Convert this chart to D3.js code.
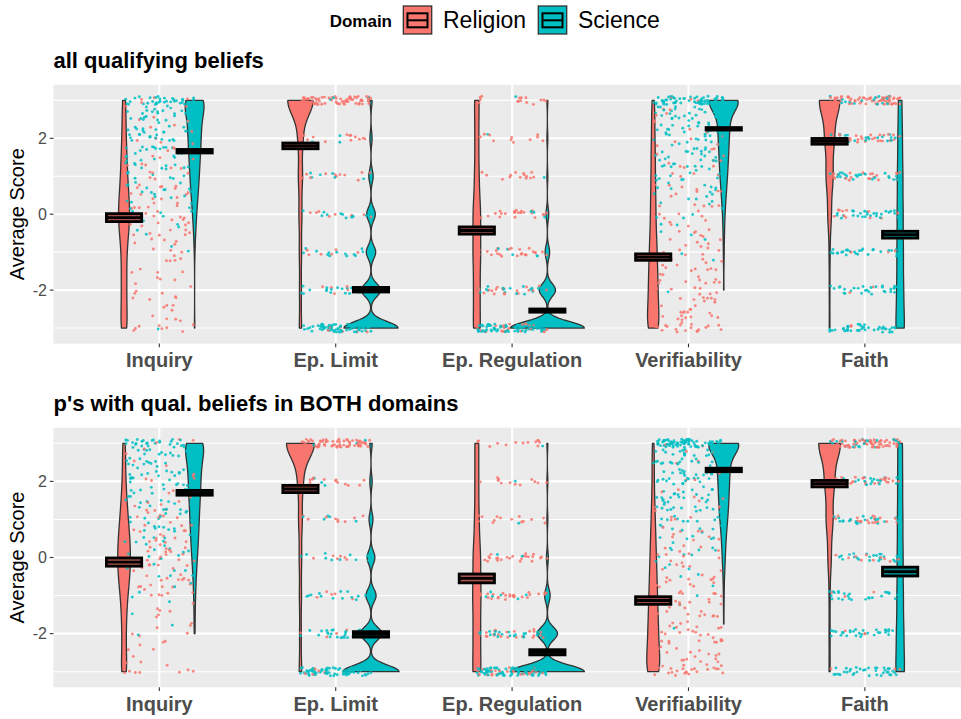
<!DOCTYPE html>
<html>
<head>
<meta charset="utf-8">
<script src="https://cdn.jsdelivr.net/npm/d3@7"></script>
<style>
  body { margin: 0; background: #ffffff; }
  svg { display: block; }
  text { font-family: "Liberation Sans", Arial, Helvetica, sans-serif; }
</style>
</head>
<body>
<svg id="chart" width="961" height="719"></svg>
<script>
// ---------- data ----------
const categories = ["Inquiry", "Ep. Limit", "Ep. Regulation", "Verifiability", "Faith"];
const domains = ["Religion", "Science"];
const panelTitles = ["all qualifying beliefs", "p's with qual. beliefs in BOTH domains"];
const yTickValues = [-2, 0, 2];
const yTickLabels = ["-2", "0", "2"];
const yGridMinor = [-3, -1, 1, 3];

// response levels (scores run from 3 down to -3)
const wholeLevels = [3, 2, 1, 0, -1, -2, -3];
const fineLevels = [3, 2.75, 2.5, 2.25, 2, 1.75, 1.5, 1.25, 1, 0.75, 0.5, 0.25, 0,
                    -0.25, -0.5, -0.75, -1, -1.25, -1.5, -1.75, -2, -2.25, -2.5, -2.75, -3];
const categoryLevels = [fineLevels, wholeLevels, wholeLevels, fineLevels, wholeLevels];

// number of participants at each level — all qualifying beliefs
const allInquiryReligion = [4, 2, 3, 3, 3, 4, 4, 5, 5, 6, 7, 8, 9, 8, 7, 5, 4, 4, 4, 4, 4, 4, 4, 4, 8];
const allInquiryScience  = [35, 15, 14, 13, 13, 12, 11, 10, 9, 8, 7, 5, 4, 3, 2, 1, 1, 0, 0, 0, 0, 0, 0, 0, 1];
const allEpLimitReligion = [70, 13, 11, 8, 6, 5, 6];
const allEpLimitScience  = [3, 3, 6, 12, 13, 27, 75];
const allEpRegReligion   = [15, 12, 14, 24, 24, 20, 23];
const allEpRegScience    = [1, 1, 1, 3, 5, 18, 82];
const allVerifReligion   = [3, 3, 3, 3, 3, 4, 4, 4, 4, 4, 5, 5, 5, 5, 6, 7, 7, 8, 8, 9, 9, 9, 10, 10, 18];
const allVerifScience    = [70, 16, 15, 14, 13, 12, 11, 10, 9, 7, 6, 4, 3, 2, 2, 1, 1, 1, 0, 0, 1, 0, 0, 0, 0];
const allFaithReligion   = [64, 28, 21, 11, 3, 2, 2];
const allFaithScience    = [16, 20, 24, 26, 28, 30, 40];

// number of participants at each level — participants with beliefs in both domains
const bothInquiryReligion = [3, 2, 2, 2, 3, 3, 4, 5, 6, 7, 8, 9, 9, 9, 8, 7, 5, 4, 4, 3, 3, 3, 3, 3, 7];
const bothInquiryScience  = [30, 14, 13, 12, 11, 11, 10, 9, 8, 8, 7, 6, 5, 4, 3, 2, 2, 1, 1, 1, 1, 0, 0, 0, 0];
const bothEpLimitReligion = [70, 13, 9, 6, 5, 4, 6];
const bothEpLimitScience  = [3, 3, 5, 10, 13, 28, 72];
const bothEpRegReligion   = [13, 12, 14, 24, 26, 23, 27];
const bothEpRegScience    = [1, 1, 1, 2, 6, 22, 80];
const bothVerifReligion   = [2, 2, 2, 2, 2, 2, 3, 3, 4, 4, 5, 5, 6, 6, 7, 7, 8, 8, 9, 9, 10, 10, 11, 11, 20];
const bothVerifScience    = [80, 18, 17, 16, 15, 14, 13, 12, 10, 8, 6, 5, 4, 3, 2, 1, 1, 1, 0, 1, 0, 0, 0, 0, 0];
const bothFaithReligion   = [66, 28, 20, 10, 3, 3, 3];
const bothFaithScience    = [20, 20, 22, 24, 26, 30, 38];

// mean score and standard error per category
const allMeanReligion  = [-0.09, 1.80, -0.43, -1.13, 1.92];
const allMeanScience   = [1.66, -1.99, -2.54, 2.25, -0.54];
const allSeReligion    = [0.105, 0.076, 0.095, 0.085, 0.076];
const allSeScience     = [0.046, 0.060, 0.042, 0.033, 0.090];
const bothMeanReligion = [-0.12, 1.80, -0.55, -1.13, 1.94];
const bothMeanScience  = [1.70, -2.02, -2.49, 2.30, -0.37];
const bothSeReligion   = [0.108, 0.095, 0.116, 0.100, 0.085];
const bothSeScience    = [0.063, 0.072, 0.068, 0.046, 0.116];

// kernel bandwidth of each violin
const bandwidthReligion = [0.35, 0.40, 0.50, 0.35, 0.42];
const bandwidthScience  = [0.30, 0.17, 0.17, 0.25, 0.50];

// ---------- assembled panel tables ----------
const panels = [
  {
    title: panelTitles[0],
    counts: {
      Religion: [allInquiryReligion, allEpLimitReligion, allEpRegReligion, allVerifReligion, allFaithReligion],
      Science:  [allInquiryScience, allEpLimitScience, allEpRegScience, allVerifScience, allFaithScience]
    },
    mean: { Religion: allMeanReligion, Science: allMeanScience },
    se:   { Religion: allSeReligion,   Science: allSeScience }
  },
  {
    title: panelTitles[1],
    counts: {
      Religion: [bothInquiryReligion, bothEpLimitReligion, bothEpRegReligion, bothVerifReligion, bothFaithReligion],
      Science:  [bothInquiryScience, bothEpLimitScience, bothEpRegScience, bothVerifScience, bothFaithScience]
    },
    mean: { Religion: bothMeanReligion, Science: bothMeanScience },
    se:   { Religion: bothSeReligion,   Science: bothSeScience }
  }
];
const bandwidth = { Religion: bandwidthReligion, Science: bandwidthScience };

// ---------- layout ----------
const fill = { Religion: "#F8766D", Science: "#00BFC4" };
const plotLeft = 53.5, plotRight = 970.7;
const panelBox = [ { top: 84.8, bottom: 343.6 }, { top: 427.7, bottom: 687.3 } ];

const svg = d3.select("#chart");
const x = d3.scalePoint().domain(categories).range([plotLeft, plotRight]).padding(0.6);
const step = x.step();
const dodge = { Religion: -0.2 * step, Science: 0.2 * step };

const gauss = u => Math.exp(-0.5 * u * u) / Math.sqrt(2 * Math.PI);

// Gaussian kernel density, trimmed to the observed range
function violinDensity(levels, counts, bw) {
  const present = levels.filter((v, i) => counts[i] > 0);
  const lo = d3.min(present), hi = d3.max(present);
  const n = d3.sum(counts);
  const samples = 160;
  return d3.range(samples + 1).map(i => {
    const y = lo + (hi - lo) * i / samples;
    const d = d3.sum(levels, (v, k) => counts[k] * gauss((y - v) / bw)) / (n * bw);
    return { y, d };
  });
}

// deterministic jitter source
const lcg = d3.randomLcg(0.4217);
const jitterX = d3.randomUniform.source(lcg)(-0.2, 0.2);
const jitterY = d3.randomUniform.source(lcg)(-0.11, 0.11);
const shuffle = d3.shuffler(lcg);

// ---------- legend ----------
const legend = svg.append("g");
legend.append("text")
  .attr("x", 392).attr("y", 27)
  .attr("text-anchor", "end")
  .attr("font-size", 17).attr("font-weight", "bold").attr("fill", "#000")
  .text("Domain");
const legendItems = [ { key: "Religion", x: 403.3 }, { key: "Science", x: 538.3 } ];
legendItems.forEach(item => {
  const g = legend.append("g").attr("transform", `translate(${item.x},6)`);
  g.append("rect").attr("x", 0).attr("y", 0).attr("width", 28.4).attr("height", 28)
    .attr("fill", fill[item.key]).attr("stroke", "#333333").attr("stroke-width", 1.3);
  g.append("rect").attr("x", 4.2).attr("y", 7.3).attr("width", 20).attr("height", 14)
    .attr("fill", fill[item.key]).attr("stroke", "#000").attr("stroke-width", 2);
  g.append("line").attr("x1", 4.2).attr("x2", 24.2).attr("y1", 14.3).attr("y2", 14.3)
    .attr("stroke", "#000").attr("stroke-width", 2);
  g.append("text").attr("x", 39.7).attr("y", 22.3)
    .attr("font-size", 23).attr("fill", "#000").text(item.key);
});

// ---------- panels ----------
panels.forEach((panel, p) => {
  const box = panelBox[p];
  const y = d3.scaleLinear().domain([-3.41, 3.41]).range([box.bottom, box.top]);
  const g = svg.append("g");

  // title
  g.append("text")
    .attr("x", plotLeft).attr("y", box.top - 16.7)
    .attr("font-size", 22).attr("font-weight", "bold").attr("fill", "#000")
    .text(panel.title);

  // background and grid
  g.append("rect")
    .attr("x", plotLeft).attr("y", box.top)
    .attr("width", plotRight - plotLeft).attr("height", box.bottom - box.top)
    .attr("fill", "#EBEBEB");
  g.selectAll(".gminor").data(yGridMinor).join("line")
    .attr("x1", plotLeft).attr("x2", plotRight)
    .attr("y1", d => y(d)).attr("y2", d => y(d))
    .attr("stroke", "#ffffff").attr("stroke-width", 1.1);
  g.selectAll(".gmajor").data(yTickValues).join("line")
    .attr("x1", plotLeft).attr("x2", plotRight)
    .attr("y1", d => y(d)).attr("y2", d => y(d))
    .attr("stroke", "#ffffff").attr("stroke-width", 2.1);
  g.selectAll(".gx").data(categories).join("line")
    .attr("x1", d => x(d)).attr("x2", d => x(d))
    .attr("y1", box.top).attr("y2", box.bottom)
    .attr("stroke", "#ffffff").attr("stroke-width", 2.1);

  // violins (area scaling: widths share one density maximum per panel)
  const violins = [];
  domains.forEach(dom => {
    categories.forEach((cat, c) => {
      const dens = violinDensity(categoryLevels[c], panel.counts[dom][c], bandwidth[dom][c]);
      violins.push({ dom, cat, c, dens });
    });
  });
  const maxDensity = d3.max(violins, v => d3.max(v.dens, s => s.d));
  const halfWidth = d3.scaleLinear().domain([0, maxDensity]).range([0, 0.21 * step]);

  violins.forEach(v => {
    const cx = x(v.cat) + dodge[v.dom];
    const area = d3.area()
      .y(s => y(s.y))
      .x0(s => cx - halfWidth(s.d))
      .x1(s => cx + halfWidth(s.d));
    g.append("path")
      .attr("d", area(v.dens))
      .attr("fill", fill[v.dom])
      .attr("stroke", "#333333").attr("stroke-width", 1.3)
      .attr("stroke-linejoin", "round");
  });

  // jittered participant points
  let pts = [];
  domains.forEach(dom => {
    categories.forEach((cat, c) => {
      const counts = panel.counts[dom][c];
      categoryLevels[c].forEach((lev, k) => {
        for (let i = 0; i < counts[k]; i++) {
          pts.push({ dom, cx: x(cat), v: lev });
        }
      });
    });
  });
  pts.forEach(pt => { pt.jx = jitterX(); pt.jy = jitterY(); });
  pts = shuffle(pts);
  g.selectAll(".pt").data(pts).join("circle")
    .attr("cx", d => d.cx + d.jx * step)
    .attr("cy", d => y(d.v + d.jy))
    .attr("r", 1.45)
    .attr("fill", d => fill[d.dom])
    .attr("fill-opacity", 0.85);

  // mean ± SE crossbars
  domains.forEach(dom => {
    categories.forEach((cat, c) => {
      const cx = x(cat) + dodge[dom];
      const m = panel.mean[dom][c], se = panel.se[dom][c];
      g.append("rect")
        .attr("x", cx - 0.1 * step).attr("width", 0.2 * step)
        .attr("y", y(m + se)).attr("height", y(m - se) - y(m + se))
        .attr("fill", d3.color(fill[dom]).darker(1.1))
        .attr("stroke", "#000").attr("stroke-width", 2.8);
      g.append("line")
        .attr("x1", cx - 0.1 * step).attr("x2", cx + 0.1 * step)
        .attr("y1", y(m)).attr("y2", y(m))
        .attr("stroke", "#000").attr("stroke-width", 2.8);
    });
  });

  // y axis
  g.selectAll(".yt").data(yTickValues).join("line")
    .attr("x1", plotLeft - 3.7).attr("x2", plotLeft)
    .attr("y1", d => y(d)).attr("y2", d => y(d))
    .attr("stroke", "#333333").attr("stroke-width", 1.1);
  g.selectAll(".yl").data(yTickValues).join("text")
    .attr("x", plotLeft - 6.5).attr("y", d => y(d))
    .attr("dy", "0.36em").attr("text-anchor", "end")
    .attr("font-size", 16).attr("fill", "#4D4D4D")
    .text((d, i) => yTickLabels[i]);
  g.append("text")
    .attr("transform", `translate(24,${(box.top + box.bottom) / 2}) rotate(-90)`)
    .attr("text-anchor", "middle")
    .attr("font-size", 20).attr("fill", "#000")
    .text("Average Score");

  // x axis
  g.selectAll(".xt").data(categories).join("line")
    .attr("x1", d => x(d)).attr("x2", d => x(d))
    .attr("y1", box.bottom).attr("y2", box.bottom + 3.7)
    .attr("stroke", "#333333").attr("stroke-width", 1.1);
  g.selectAll(".xl").data(categories).join("text")
    .attr("x", d => x(d)).attr("y", box.bottom + 23.5)
    .attr("text-anchor", "middle")
    .attr("font-size", 20).attr("font-weight", "bold").attr("fill", "#4D4D4D")
    .text(d => d);
});
</script>
</body>
</html>
